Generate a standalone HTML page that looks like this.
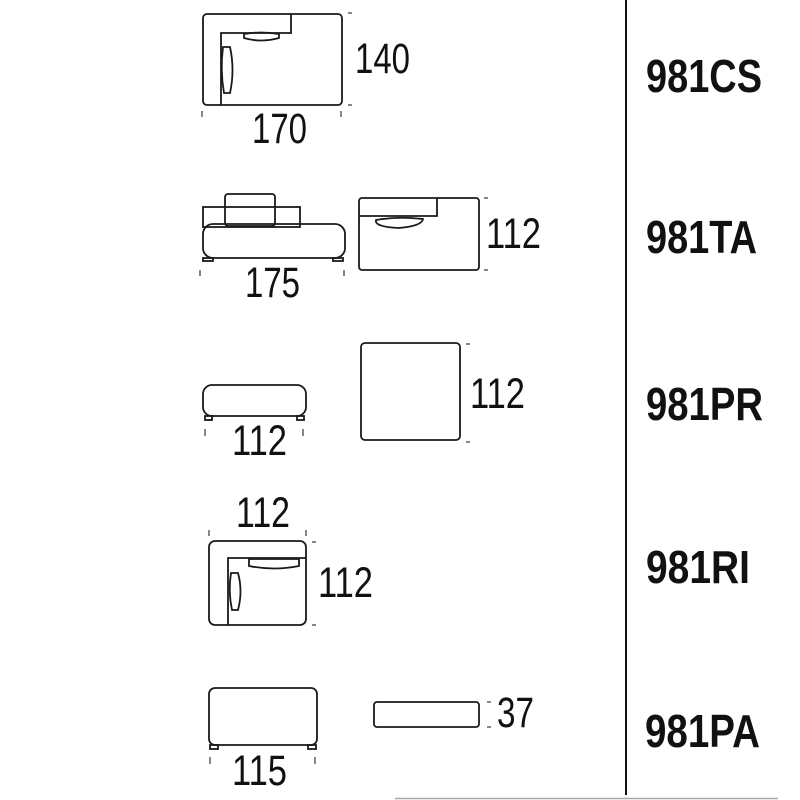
<!DOCTYPE html>
<html><head><meta charset="utf-8"><style>
html,body{margin:0;padding:0;background:#fff}
svg{display:block}
.d{font-family:"Liberation Sans Narrow","Liberation Sans",sans-serif;font-size:43px;fill:#111}
.l{font-family:"Liberation Sans Narrow","Liberation Sans",sans-serif;font-size:46px;font-weight:bold;fill:#111}
.s{fill:none;stroke:#1a1a1a;stroke-width:1.8}
.t{stroke:#444;stroke-width:1.3}
</style></head><body>
<svg width="800" height="800" viewBox="0 0 800 800" xmlns="http://www.w3.org/2000/svg">
<line x1="626" y1="0" x2="626" y2="795" stroke="#111" stroke-width="2"/>
<line x1="395" y1="798.5" x2="778" y2="798.5" stroke="#aaa" stroke-width="1.5"/>

<!-- 981CS -->
<rect class="s" x="203" y="14" width="139" height="91" rx="4"/>
<polyline class="s" points="291,14 291,33 221,33 221,105"/>
<path class="s" d="M244,34 Q261,31 279,34 L279,38 Q261,43 244,38 Z"/>
<path class="s" d="M223,47 L230,47 Q235,70 230,93 L224,93 Q220,70 223,47 Z"/>
<line class="t" x1="348" y1="13" x2="352" y2="13"/><line class="t" x1="348" y1="105" x2="352" y2="105"/>
<line class="t" x1="202" y1="111" x2="202" y2="117"/><line class="t" x1="341" y1="111" x2="341" y2="117"/>
<text class="d" x="355" y="73" textLength="55" lengthAdjust="spacingAndGlyphs">140</text>
<text class="d" x="252" y="143" textLength="55" lengthAdjust="spacingAndGlyphs">170</text>

<!-- 981TA front -->
<rect class="s" x="203" y="207" width="97" height="20"/>
<rect class="s" x="225" y="194" width="50" height="32" rx="3" fill="#fff"/>
<rect class="s" x="203" y="224" width="142" height="34" rx="10" fill="#fff"/>
<rect class="s" x="203" y="258" width="10" height="3"/><rect class="s" x="333" y="258" width="10" height="3"/>
<line class="t" x1="200" y1="270" x2="200" y2="276"/><line class="t" x1="344" y1="270" x2="344" y2="276"/>
<text class="d" x="245" y="297" textLength="55" lengthAdjust="spacingAndGlyphs">175</text>
<!-- 981TA top -->
<rect class="s" x="359" y="198" width="120" height="72" rx="3"/>
<polyline class="s" points="359,216 437,216 437,198"/>
<path class="s" d="M376,220 Q399,216 423,219 Q422,226 399,228 Q378,227 376,222 Z"/>
<line class="t" x1="484" y1="198" x2="488" y2="198"/><line class="t" x1="484" y1="270" x2="488" y2="270"/>
<text class="d" x="486" y="248" textLength="55" lengthAdjust="spacingAndGlyphs">112</text>

<!-- 981PR -->
<rect class="s" x="203" y="385" width="103" height="31" rx="9"/>
<rect class="s" x="205" y="416" width="7" height="4"/><rect class="s" x="297" y="416" width="7" height="4"/>
<line class="t" x1="205" y1="429" x2="205" y2="436"/><line class="t" x1="303" y1="429" x2="303" y2="436"/>
<text class="d" x="232" y="455" textLength="55" lengthAdjust="spacingAndGlyphs">112</text>
<rect class="s" x="361" y="343" width="99" height="97" rx="4"/>
<line class="t" x1="466" y1="344" x2="470" y2="344"/><line class="t" x1="466" y1="442" x2="470" y2="442"/>
<text class="d" x="470" y="408" textLength="55" lengthAdjust="spacingAndGlyphs">112</text>

<!-- 981RI -->
<text class="d" x="236" y="527" textLength="54" lengthAdjust="spacingAndGlyphs">112</text>
<line class="t" x1="209" y1="530" x2="209" y2="536"/><line class="t" x1="306" y1="530" x2="306" y2="536"/>
<rect class="s" x="209" y="541" width="97" height="84" rx="6"/>
<polyline class="s" points="306,558 228,558 228,625"/>
<path class="s" d="M249,559 L299,559 L299,566 Q274,571 249,566 Z"/>
<path class="s" d="M231,573 L238,573 Q243,591 238,610 L232,610 Q228,591 231,573 Z"/>
<line class="t" x1="312" y1="542" x2="316" y2="542"/><line class="t" x1="312" y1="625" x2="316" y2="625"/>
<text class="d" x="318" y="597" textLength="55" lengthAdjust="spacingAndGlyphs">112</text>

<!-- 981PA -->
<rect class="s" x="209" y="688" width="108" height="57" rx="6"/>
<rect class="s" x="210" y="745" width="8" height="4"/><rect class="s" x="308" y="745" width="8" height="4"/>
<line class="t" x1="210" y1="757" x2="210" y2="764"/><line class="t" x1="315" y1="757" x2="315" y2="764"/>
<text class="d" x="232" y="785" textLength="55" lengthAdjust="spacingAndGlyphs">115</text>
<rect class="s" x="374" y="702" width="105" height="25" rx="3"/>
<line class="t" x1="487" y1="702" x2="491" y2="702"/><line class="t" x1="487" y1="727" x2="491" y2="727"/>
<text class="d" x="497" y="727" textLength="37" lengthAdjust="spacingAndGlyphs">37</text>

<!-- labels -->
<text class="l" x="646" y="92" textLength="116" lengthAdjust="spacingAndGlyphs">981CS</text>
<text class="l" x="646" y="253" textLength="111" lengthAdjust="spacingAndGlyphs">981TA</text>
<text class="l" x="646" y="420" textLength="117" lengthAdjust="spacingAndGlyphs">981PR</text>
<text class="l" x="646" y="583" textLength="104" lengthAdjust="spacingAndGlyphs">981RI</text>
<text class="l" x="645" y="747" textLength="115" lengthAdjust="spacingAndGlyphs">981PA</text>
</svg>
</body></html>
